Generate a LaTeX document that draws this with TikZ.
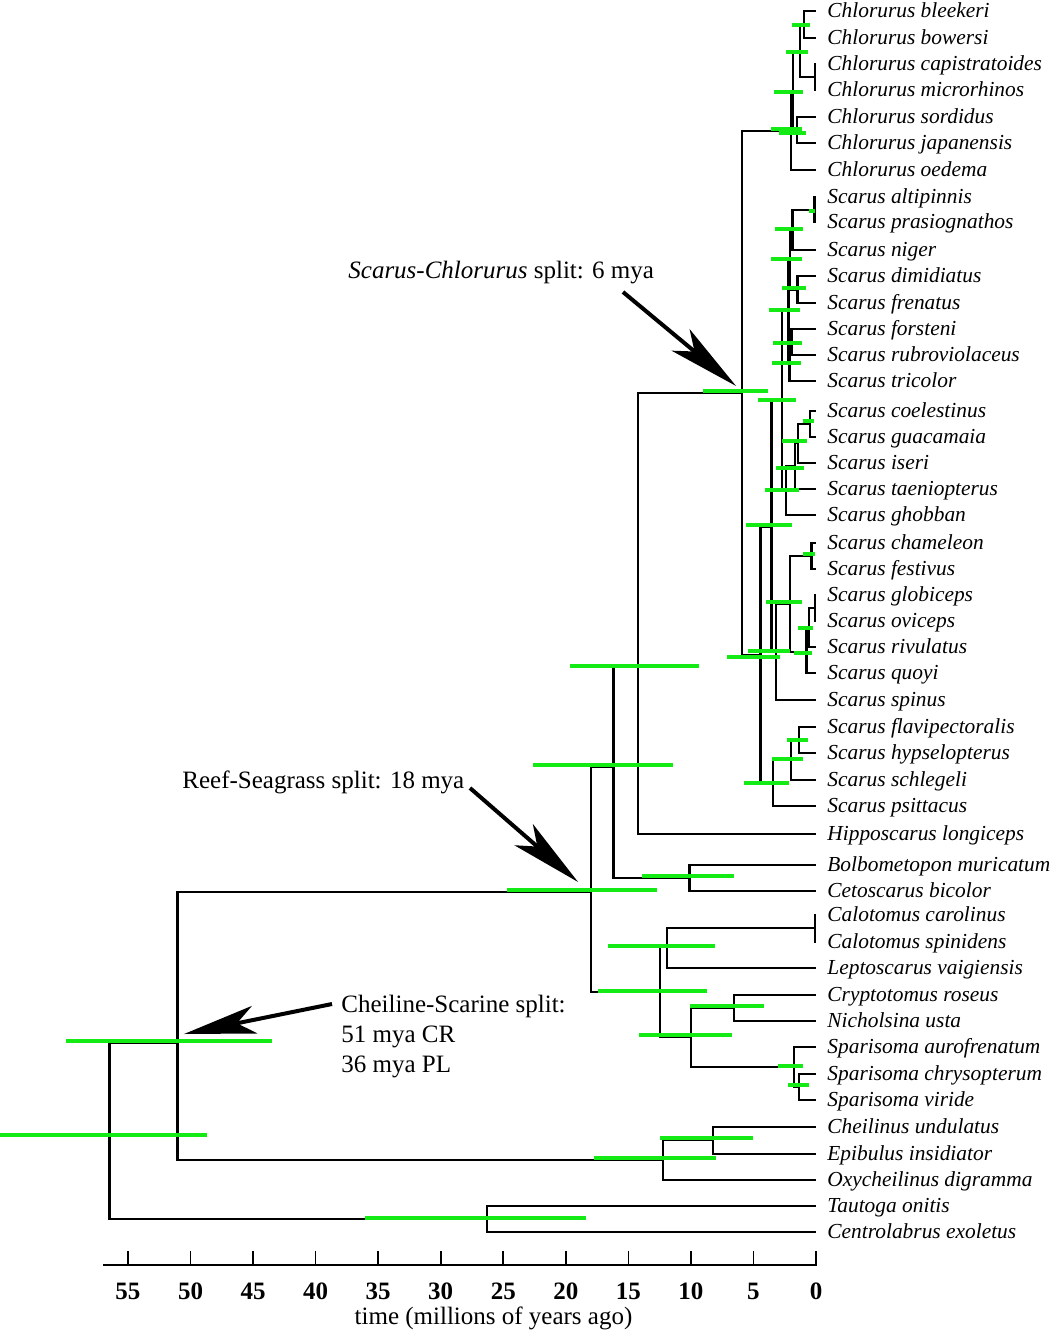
\documentclass[tikz,border=0pt]{standalone}
\usepackage{fontspec}
\setmainfont{Liberation Serif}
\usetikzlibrary{arrows.meta}
\definecolor{hpdgreen}{RGB}{20,235,20}

\begin{document}
\begin{tikzpicture}[x = -6.255pt, y = -0.5pt,
    treeline/.style = {line width = 1.3pt},
    hpd/.style = {draw = hpdgreen, line width = 1.6pt},
    taxon/.style = {anchor = west, inner xsep = 5.5pt, inner ysep = 0pt, text height = 9pt, text depth = 2.5pt,
        font = \fontsize{10.7}{12}\selectfont\itshape},
    note/.style = {anchor = west, inner sep = 0pt, align = left, font = \fontsize{12.5}{15}\selectfont},
    pointer/.style = {line width = 2pt, -{Stealth[length = 36pt, width = 14pt, inset = 9pt]}}]
    \useasboundingbox (65.23,0) rectangle (-18.71,1335);
    % tips (x = age in my, y = pixel row)
    \foreach \n/\y/\t in {bleekeri/11/Chlorurus bleekeri, bowersi/38/Chlorurus bowersi,
        capistratoides/64/Chlorurus capistratoides, microrhinos/90/Chlorurus microrhinos,
        sordidus/117/Chlorurus sordidus, japanensis/143/Chlorurus japanensis, oedema/170/Chlorurus oedema,
        altipinnis/197/Scarus altipinnis, prasiognathos/222/Scarus prasiognathos, niger/250/Scarus niger,
        dimidiatus/276/Scarus dimidiatus, frenatus/303/Scarus frenatus, forsteni/329/Scarus forsteni,
        rubroviolaceus/355/Scarus rubroviolaceus, tricolor/381/Scarus tricolor, coelestinus/411/Scarus coelestinus,
        guacamaia/437/Scarus guacamaia, iseri/463/Scarus iseri, taeniopterus/489/Scarus taeniopterus,
        ghobban/515/Scarus ghobban, chameleon/543/Scarus chameleon, festivus/569/Scarus festivus,
        globiceps/595/Scarus globiceps, oviceps/621/Scarus oviceps, rivulatus/647/Scarus rivulatus,
        quoyi/673/Scarus quoyi, spinus/700/Scarus spinus, flavipectoralis/727/Scarus flavipectoralis,
        hypselopterus/753/Scarus hypselopterus, schlegeli/780/Scarus schlegeli, psittacus/806/Scarus psittacus,
        longiceps/834/Hipposcarus longiceps, muricatum/865/Bolbometopon muricatum, bicolor/891/Cetoscarus bicolor,
        carolinus/915/Calotomus carolinus, spinidens/942/Calotomus spinidens, vaigiensis/968/Leptoscarus vaigiensis,
        roseus/995/Cryptotomus roseus, usta/1021/Nicholsina usta, aurofrenatum/1047/Sparisoma aurofrenatum,
        chrysopterum/1074/Sparisoma chrysopterum, viride/1100/Sparisoma viride, undulatus/1127/Cheilinus undulatus,
        insidiator/1154/Epibulus insidiator, digramma/1180/Oxycheilinus digramma, onitis/1206/Tautoga onitis,
        exoletus/1232/Centrolabrus exoletus}
        \node[taxon] (\n) at (0,\y) {\t};
    % internal nodes
    \foreach \n/\a/\y in {nA/0.96/24.5, nC/0.08/77, nB/1.28/51, nE/1.52/130, nD/1.84/91, nF/2.0/131,
        nAP/0.12/210, nZ1/1.9/230, nDF/1.5/290, nZ2/2.08/259, nZ3/1.96/342, nZ4/2.12/362, nW/2.2/311,
        nY1/0.48/424, nY2/1.44/443, nY3/1.68/466, nX/2.4/490, nM/2.72/401,
        nCF/0.34/556, nV/0.08/608, nU/0.56/628, nT/0.74/652, nS/2.08/604, nP/3.2/652, nN/3.54/527,
        nL/1.36/740, nK/2.0/760, nJ/3.44/783, nH/4.42/655, nG/5.92/393,
        nHN/14.23/667, nBC/10.11/878, nRF/16.19/767,
        nCal/0.08/928, nCL/11.91/947, nCN/6.55/1008, nSV/1.36/1087, nSP/1.76/1067, nCS/10.0/1037,
        nSG/12.47/992, nRS/17.99/892, nCE/8.23/1140, nCEO/12.23/1160, nLS/51.02/1043, nTC/26.3/1219,
        nRoot/56.48/1131}
        \coordinate (\n) at (\a,\y);
    % branches
    \foreach \p/\c in {nA/bleekeri, nA/bowersi, nC/capistratoides, nC/microrhinos, nB/nA, nB/nC,
        nE/sordidus, nE/japanensis, nD/nB, nD/nE, nF/nD, nF/oedema,
        nAP/altipinnis, nAP/prasiognathos, nZ1/nAP, nZ1/niger, nDF/dimidiatus, nDF/frenatus, nZ2/nZ1, nZ2/nDF,
        nZ3/forsteni, nZ3/rubroviolaceus, nZ4/nZ3, nZ4/tricolor, nW/nZ2, nW/nZ4,
        nY1/coelestinus, nY1/guacamaia, nY2/nY1, nY2/iseri, nY3/nY2, nY3/taeniopterus, nX/nY3, nX/ghobban,
        nM/nW, nM/nX, nCF/chameleon, nCF/festivus, nV/globiceps, nV/oviceps, nU/nV, nU/rivulatus,
        nT/nU, nT/quoyi, nS/nCF, nS/nT, nP/nS, nP/spinus, nN/nM, nN/nP,
        nL/flavipectoralis, nL/hypselopterus, nK/nL, nK/schlegeli, nJ/nK, nJ/psittacus, nH/nN, nH/nJ,
        nG/nF, nG/nH, nHN/nG, nHN/longiceps, nBC/muricatum, nBC/bicolor, nRF/nHN, nRF/nBC,
        nCal/carolinus, nCal/spinidens, nCL/nCal, nCL/vaigiensis, nCN/roseus, nCN/usta,
        nSV/chrysopterum, nSV/viride, nSP/aurofrenatum, nSP/nSV, nCS/nCN, nCS/nSP, nSG/nCL, nSG/nCS,
        nRS/nRF, nRS/nSG, nCE/undulatus, nCE/insidiator, nCEO/nCE, nCEO/digramma,
        nLS/nRS, nLS/nCEO, nTC/onitis, nTC/exoletus, nRoot/nLS, nRoot/nTC}
        \draw[treeline] (\p) |- (\c);
    % 95% HPD bars
    \foreach \o/\g/\y in {1.92/0.48/25, 2.4/0.64/52, 3.36/1.04/92, 3.6/1.12/129, 2.96/0.8/133, 0.56/0.08/211,
        3.28/1.04/229, 3.6/1.12/259, 2.72/0.8/288, 3.76/1.28/310, 3.44/1.12/343, 3.52/1.2/363,
        9.03/3.84/391, 4.64/1.6/400, 1.04/0.16/421, 2.72/0.72/441, 3.2/0.96/468, 4.08/1.36/490,
        5.6/1.92/525, 1.04/0.08/554, 4.0/1.12/602, 1.44/0.24/628, 5.44/2.08/651, 1.76/0.32/653,
        7.11/2.88/657, 2.32/0.64/740, 3.52/1.04/759, 5.76/2.16/783, 19.66/9.35/666, 22.62/11.43/765,
        13.91/6.55/876, 24.7/12.71/890, 16.63/8.07/946, 17.43/8.71/991, 14.15/6.71/1035, 10.07/4.16/1006,
        3.04/1.04/1066, 2.24/0.56/1085, 12.47/5.04/1138, 17.75/7.99/1158, 59.95/43.49/1041,
        65.23/48.68/1135, 36.05/18.39/1218}
        \draw[hpd] (\o,\y) -- (\g,\y);
    % time axis
    \draw[line width = 0.8pt] (57.0,1265) -- (-0.08,1265);
    \foreach \t in {0,5,...,55} {
        \draw[line width = 0.8pt] (\t,1265) -- (\t,1251);
        \node[font = \fontsize{12.5}{15}\selectfont\bfseries] (tick\t) at (\t,1291) {\t};
    }
    \node[font = \fontsize{12.5}{15}\selectfont] (caption) at (25.78,1318) {time (millions of years ago)};
    % callouts
    \node[note] (scarsplit) at (37.41,273) {\textit{Scarus-Chlorurus} split: 6 mya};
    \node[note] (reefsplit) at (50.68,782) {Reef-Seagrass split: 18 mya};
    \node[note] (cheilsplit) at (37.97,1037) {Cheiline-Scarine split:\\51 mya CR\\36 mya PL};
    \coordinate (scartail) at (15.43,292);
    \coordinate (scarhead) at (6.39,386);
    \coordinate (reeftail) at (27.66,788);
    \coordinate (reefhead) at (19.02,882);
    \coordinate (cheiltail) at (38.69,1004);
    \coordinate (cheilhead) at (50.52,1034);
    \draw[pointer] (scartail) -- (scarhead);
    \draw[pointer] (reeftail) -- (reefhead);
    \draw[pointer] (cheiltail) -- (cheilhead);
\end{tikzpicture}
\end{document}
